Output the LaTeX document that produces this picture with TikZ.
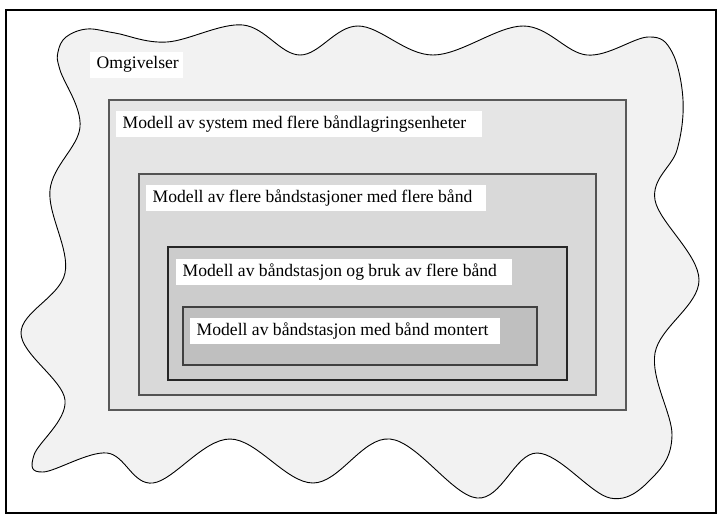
\documentclass[tikz,border=0pt]{standalone}
\usepackage{fontspec}
\setmainfont{Liberation Serif}
\definecolor{envfill}{gray}{0.95}
\definecolor{fillA}{gray}{0.90}
\definecolor{fillB}{gray}{0.85}
\definecolor{fillC}{gray}{0.80}
\definecolor{fillD}{gray}{0.75}
% label text left-aligned in a box of given width
\newcommand{\lbltext}[2]{\makebox[#1][l]{#2}}
\begin{document}
\begin{tikzpicture}[x=1pt,y=-1pt,
  lbl/.style={fill=white, anchor=west, inner xsep=6.5pt, inner ysep=0pt,
              minimum height=26pt,
              font=\fontsize{17.6}{20}\selectfont},
  layer/.style={line width=1.1pt}]
\useasboundingbox (0,0) rectangle (719,514);
% frame
\draw[line width=2pt] (6,10) rectangle (716,513);
% surroundings (wavy outline)
\draw[fill=envfill, line width=0.9pt] plot[smooth cycle, tension=0.6] coordinates {
  (58,52) (66,37) (87,29) (115,33) (167,42) (243,25) (300,55) (358,26)
  (433,55) (523,26) (587,55) (648,37) (672,52) (683,100) (677,150)
  (655,200) (699,280) (655,353) (672,435) (653,477) (610,498)
  (537,453) (477,498) (390,439) (313,483) (230,439) (153,483)
  (107,453) (43,472) (34,455) (65,400) (21,333) (65,273) (50,190)
  (80,127) (60,70)};
% nested model levels
\draw[layer, fill=fillA, draw=black!65] (109,100) rectangle (626,410);
\draw[layer, fill=fillB, draw=black!68] (139,174) rectangle (596,395);
\draw[layer, fill=fillC, draw=black!85] (168,247) rectangle (567,380);
\draw[layer, fill=fillD, draw=black!75] (183,307) rectangle (537,365);
% labels
\node[lbl] (env) at (90,64.5) {\lbltext{80pt}{Omgivelser}};
\node[lbl] (sys) at (116,124) {\lbltext{353pt}{Modell av system med flere båndlagringsenheter}};
\node[lbl] (stations) at (146,198) {\lbltext{327pt}{Modell av flere båndstasjoner med flere bånd}};
\node[lbl] (station) at (176,272) {\lbltext{323pt}{Modell av båndstasjon og bruk av flere bånd}};
\node[lbl] (mounted) at (190,331) {\lbltext{297pt}{Modell av båndstasjon med bånd montert}};
\end{tikzpicture}
\end{document}
